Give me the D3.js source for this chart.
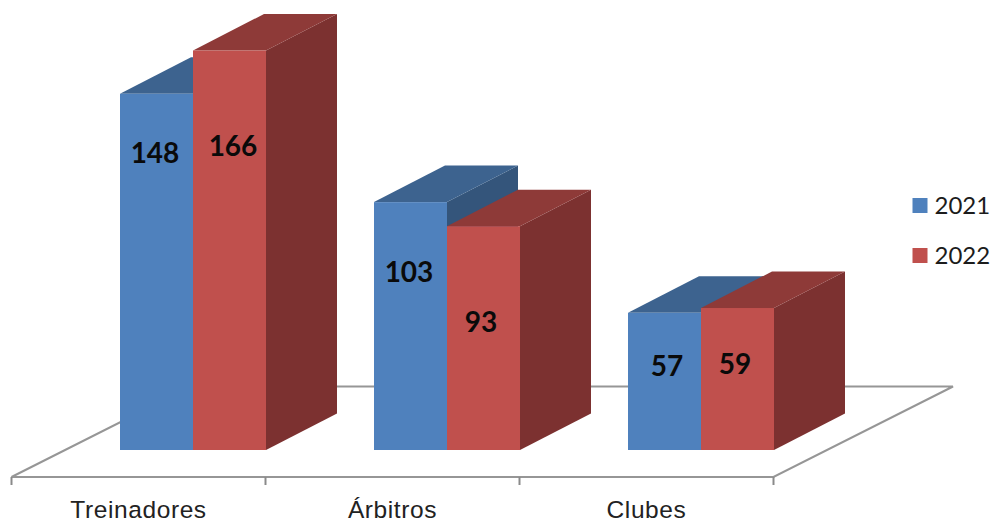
<!DOCTYPE html>
<html lang="en">
<head>
    <meta charset="UTF-8">
    <title>Treinadores, Árbitros, Clubes</title>
    <script src="https://d3js.org/d3.v7.min.js"></script>
    <style>
        body { margin: 0; background: #fff; font-family: Lato, "Open Sans", sans-serif; }
        svg { display: block; }
        .floor { fill: #fff; stroke: #969696; stroke-width: 2px; }
        .axis text { font-size: 24.5px; letter-spacing: 0.6px; fill: #222; }
        .axis path, .axis line { stroke: #8a8a8a; stroke-width: 2px; }
        .value { font-size: 28px; font-weight: 700; fill: #0a0a0a; text-anchor: middle; }
        .legend text { font-size: 24px; fill: #1c1c1c; }
    </style>
</head>
<body>
    <div id="chart"></div>
    <script>
        const categories = ["Treinadores", "Árbitros", "Clubes"];
        const years = ["2021", "2022"];
        const values2021 = [148, 103, 57];
        const values2022 = [166, 93, 59];

        const width = 994, height = 525;
        const baseY = 450, floorY = 477, floorBackY = 386.5;
        const depthX = 71, depthY = 36.5;
        const barsWidth = 146, floorSkew = 179.5;

        // front, top and side colours per series
        const shades = [
            { front: "#4f81bd", top: "#3d638f", side: "#34557b" },
            { front: "#c0504d", top: "#8e3a38", side: "#7c3130" }
        ];
        // data labels were hand placed in the original: [dx from bar centre, dy from bar top]
        const labelShift = [
            [[-1.5, 59], [3.5, 96]],
            [[-1.5, 70], [-2.5, 96]],
            [[2.5, 53], [-2.5, 56]]
        ];

        const x = d3.scaleBand().domain(categories).range([11.5, 773.5]);
        const inner = d3.scaleBand().domain(years)
            .range([x.bandwidth() - barsWidth + 0.5, x.bandwidth() + 0.5]);
        const y = d3.scaleLinear().domain([0, 166]).range([baseY, 50.5]);

        const svg = d3.select("#chart").append("svg")
            .attr("width", width).attr("height", height);

        svg.append("path").attr("class", "floor")
            .attr("d", d3.line()([
                [x.range()[0], floorY],
                [x.range()[1], floorY],
                [x.range()[1] + floorSkew, floorBackY],
                [x.range()[0] + floorSkew, floorBackY]
            ]) + "Z");

        const axis = svg.append("g").attr("class", "axis")
            .attr("transform", `translate(0,${floorY})`)
            .call(d3.axisBottom(x).tickSize(0).tickPadding(24));
        axis.select(".domain").remove();
        axis.selectAll(".edge")
            .data([...categories.map(c => x(c)), x.range()[1]])
            .enter().append("line")
            .attr("x1", d => d).attr("x2", d => d)
            .attr("y1", 0).attr("y2", 8);

        const rows = categories.map((c, i) => [values2021[i], values2022[i]]);

        rows.forEach((row, c) => {
            const g = svg.append("g").attr("transform", `translate(${x(categories[c])},0)`);
            row.forEach((v, s) => {
                const x0 = inner(years[s]), x1 = x0 + inner.bandwidth(), top = y(v);
                g.append("path").attr("fill", shades[s].side)
                    .attr("d", d3.line()([[x1, top], [x1 + depthX, top - depthY],
                        [x1 + depthX, baseY - depthY], [x1, baseY]]) + "Z");
                g.append("path").attr("fill", shades[s].top)
                    .attr("d", d3.line()([[x0, top], [x0 + depthX, top - depthY],
                        [x1 + depthX, top - depthY], [x1, top]]) + "Z");
                g.append("rect").attr("fill", shades[s].front)
                    .attr("x", x0).attr("y", top)
                    .attr("width", inner.bandwidth()).attr("height", baseY - top);
            });
            // labels go last so the next bar never covers them
            row.forEach((v, s) => {
                g.append("text").attr("class", "value")
                    .attr("x", inner(years[s]) + inner.bandwidth() / 2 + labelShift[c][s][0])
                    .attr("y", y(v) + labelShift[c][s][1])
                    .attr("dy", "0.35em")
                    .text(v);
            });
        });

        const legend = svg.append("g").attr("class", "legend")
            .selectAll("g").data(years).enter().append("g")
            .attr("transform", (d, i) => `translate(912.5,${198 + i * 50})`);
        legend.append("rect").attr("width", 15).attr("height", 15)
            .attr("fill", (d, i) => shades[i].front);
        legend.append("text").attr("x", 22).attr("y", 8).attr("dy", "0.35em").text(d => d);
    </script>
</body>
</html>
